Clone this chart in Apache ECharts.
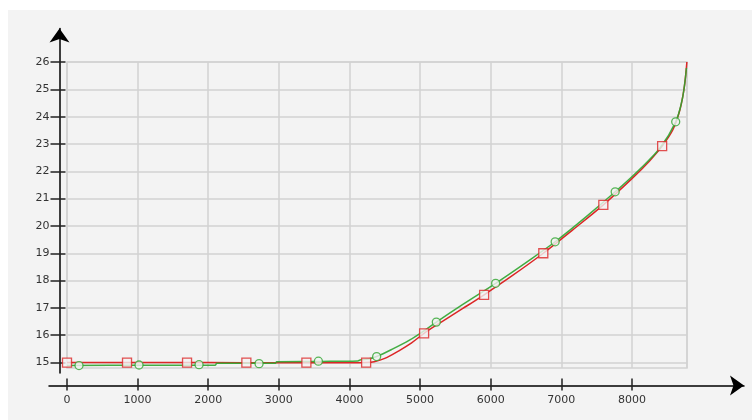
<!DOCTYPE html>
<html>
<head>
<meta charset="utf-8">
<script src="https://cdn.jsdelivr.net/npm/echarts@6/dist/echarts.min.js"></script>
<style>
  html, body { margin: 0; padding: 0; background: #ffffff; }
  #chart { position: absolute; left: 8px; top: 10px; width: 744px; height: 410px; }
</style>
</head>
<body>
<div id="chart"></div>
<script>
// Tick labels
const xTicks = [0, 1000, 2000, 3000, 4000, 5000, 6000, 7000, 8000];
const yTicks = [15, 16, 17, 18, 19, 20, 21, 22, 23, 24, 25, 26];

// Red curve (line) and its square markers
const redX = [0, 1000, 2000, 3000, 4000, 4236, 4350, 4500, 4700, 4880, 5057, 5300, 5600, 5907, 6300, 6745, 7150, 7595, 8000, 8250, 8428, 8580, 8680, 8740, 8768, 8778];
const redY = [15.0, 15.0, 15.0, 14.99, 14.99, 15.0, 15.03, 15.15, 15.43, 15.72, 16.07, 16.48, 16.97, 17.48, 18.17, 19.0, 19.83, 20.77, 21.73, 22.38, 22.92, 23.52, 24.25, 25.05, 25.7, 26.0];
const redMarkX = [0, 850, 1700, 2540, 3390, 4236, 5057, 5907, 6745, 7595, 8428];
const redMarkY = [15.0, 15.0, 15.0, 15.0, 15.0, 15.0, 16.07, 17.48, 19.0, 20.77, 22.92];

// Green curve (line) and its circle markers
const greenX = [0, 1000, 2100, 2120, 2950, 2970, 3600, 4120, 4150, 4270, 4385, 4600, 4850, 5050, 5230, 5600, 6070, 6500, 6913, 7350, 7763, 8100, 8400, 8620, 8710, 8752, 8772];
const greenY = [14.89, 14.9, 14.9, 14.97, 14.97, 15.03, 15.04, 15.06, 15.09, 15.13, 15.22, 15.48, 15.82, 16.15, 16.48, 17.12, 17.9, 18.66, 19.42, 20.33, 21.25, 22.05, 22.86, 23.81, 24.6, 25.3, 25.78];
const greenMarkX = [170, 1020, 1870, 2720, 3560, 4385, 5230, 6070, 6913, 7763, 8620];
const greenMarkY = [14.89, 14.91, 14.92, 14.96, 15.05, 15.22, 16.48, 17.9, 19.42, 21.25, 23.81];

const zip = (xs, ys) => xs.map((x, i) => [x, ys[i]]);

// Layout (pixels inside the chart box)
const W = 744, H = 410;
const plot = { left: 59, top: 52, right: 65, bottom: 52 };
const X_MIN = 0, X_MAX = 8780, Y_MIN = 14.8, Y_MAX = 26;
const plotW = W - plot.left - plot.right;
const plotH = H - plot.top - plot.bottom;
const pxPerX = plotW / (X_MAX - X_MIN);
const pxPerY = plotH / (Y_MAX - Y_MIN);

// Arrow axes geometry
const xLineY = 375.5, xLineStart = 41, xLineEnd = 736;
const yLineX = 51.5, yLineTop = 18.5, yLineBottom = 363;

const xArrowMin = X_MIN - (plot.left - xLineStart) / pxPerX;
const xArrowMax = X_MIN + (xLineEnd - plot.left) / pxPerX;
const plotBottomPx = H - plot.bottom;
const yArrowMin = Y_MIN - (yLineBottom - plotBottomPx) / pxPerY;
const yArrowMax = Y_MAX + (plot.top - yLineTop) / pxPerY;

const FONT = 'DejaVu Sans';
const gridColor = '#d2d2d2';
const hidden = { show: false };
const plain = v => String(Math.round(v));

const chart = echarts.init(document.getElementById('chart'), null, { renderer: 'canvas' });

chart.setOption({
  backgroundColor: '#f3f3f3',
  animation: false,
  grid: [
    { left: plot.left, top: plot.top, right: plot.right, bottom: plot.bottom,
      show: true, borderColor: gridColor, borderWidth: 1.5, backgroundColor: 'transparent',
      containLabel: false, outerBoundsMode: 'none' },
    { left: xLineStart, right: W - xLineEnd, top: xLineY - 5, bottom: H - xLineY,
      containLabel: false, outerBoundsMode: 'none' },
    { left: yLineX, width: 5, top: yLineTop, bottom: H - yLineBottom,
      containLabel: false, outerBoundsMode: 'none' }
  ],
  xAxis: [
    { gridIndex: 0, type: 'value', min: X_MIN, max: X_MAX, interval: 1000,
      axisLine: hidden, axisTick: hidden, axisLabel: hidden,
      splitLine: { show: true, lineStyle: { color: gridColor, width: 1.5 } } },
    { gridIndex: 1, type: 'value', min: xArrowMin, max: xArrowMax, position: 'bottom',
      axisLine: { show: true, onZero: false, symbol: ['none', 'arrow'], symbolSize: [15, 14],
        lineStyle: { color: '#000', width: 1.5 } },
      axisTick: { show: true, inside: true, length: 7, customValues: xTicks,
        lineStyle: { color: '#222', width: 1.5 } },
      axisLabel: { show: true, customValues: xTicks, margin: 9, color: '#333',
        fontFamily: FONT, fontSize: 11, formatter: plain },
      splitLine: hidden },
    { gridIndex: 1, type: 'value', min: xArrowMin, max: xArrowMax, position: 'bottom',
      axisLine: hidden,
      axisTick: { show: true, inside: false, length: 5, customValues: xTicks,
        lineStyle: { color: '#222', width: 1.5 } },
      axisLabel: { show: false, customValues: xTicks },
      splitLine: hidden },
    { gridIndex: 2, type: 'value', show: false, min: 0, max: 1 }
  ],
  yAxis: [
    { gridIndex: 0, type: 'value', min: Y_MIN, max: Y_MAX,
      axisLine: hidden,
      axisTick: { show: false, customValues: yTicks },
      axisLabel: { show: false, customValues: yTicks },
      splitLine: { show: true, lineStyle: { color: gridColor, width: 1.5 } } },
    { gridIndex: 1, type: 'value', show: false, min: 0, max: 1 },
    { gridIndex: 2, type: 'value', min: yArrowMin, max: yArrowMax, position: 'left',
      axisLine: { show: true, onZero: false, symbol: ['none', 'arrow'], symbolSize: [15, 14],
        lineStyle: { color: '#000', width: 1.5 } },
      axisTick: { show: true, inside: false, length: 9, customValues: yTicks,
        lineStyle: { color: '#222', width: 1.5 } },
      axisLabel: { show: true, customValues: yTicks, margin: 10, color: '#333',
        fontFamily: FONT, fontSize: 11, formatter: plain },
      splitLine: hidden },
    { gridIndex: 2, type: 'value', min: yArrowMin, max: yArrowMax, position: 'left',
      axisLine: hidden,
      axisTick: { show: true, inside: true, length: 6, customValues: yTicks,
        lineStyle: { color: '#222', width: 1.5 } },
      axisLabel: { show: false, customValues: yTicks },
      splitLine: hidden }
  ],
  series: [
    { name: 'red', type: 'line', xAxisIndex: 0, yAxisIndex: 0, data: zip(redX, redY),
      showSymbol: false, smooth: 0.35, z: 3,
      lineStyle: { color: '#dc2626', width: 1.5 } },
    { name: 'green', type: 'line', xAxisIndex: 0, yAxisIndex: 0, data: zip(greenX, greenY),
      showSymbol: false, smooth: 0.35, z: 4,
      lineStyle: { color: '#2fa52f', width: 1.5, opacity: 0.9 } },
    { name: 'redMarks', type: 'scatter', xAxisIndex: 0, yAxisIndex: 0, data: zip(redMarkX, redMarkY),
      symbol: 'rect', symbolSize: 9, z: 5,
      itemStyle: { color: '#f3f3f3', borderColor: '#dc2626', borderWidth: 1.3 } },
    { name: 'greenMarks', type: 'scatter', xAxisIndex: 0, yAxisIndex: 0, data: zip(greenMarkX, greenMarkY),
      symbol: 'circle', symbolSize: 8, z: 5,
      itemStyle: { color: '#f3f3f3', borderColor: '#2fa52f', borderWidth: 1.3 } }
  ]
});
</script>
</body>
</html>
